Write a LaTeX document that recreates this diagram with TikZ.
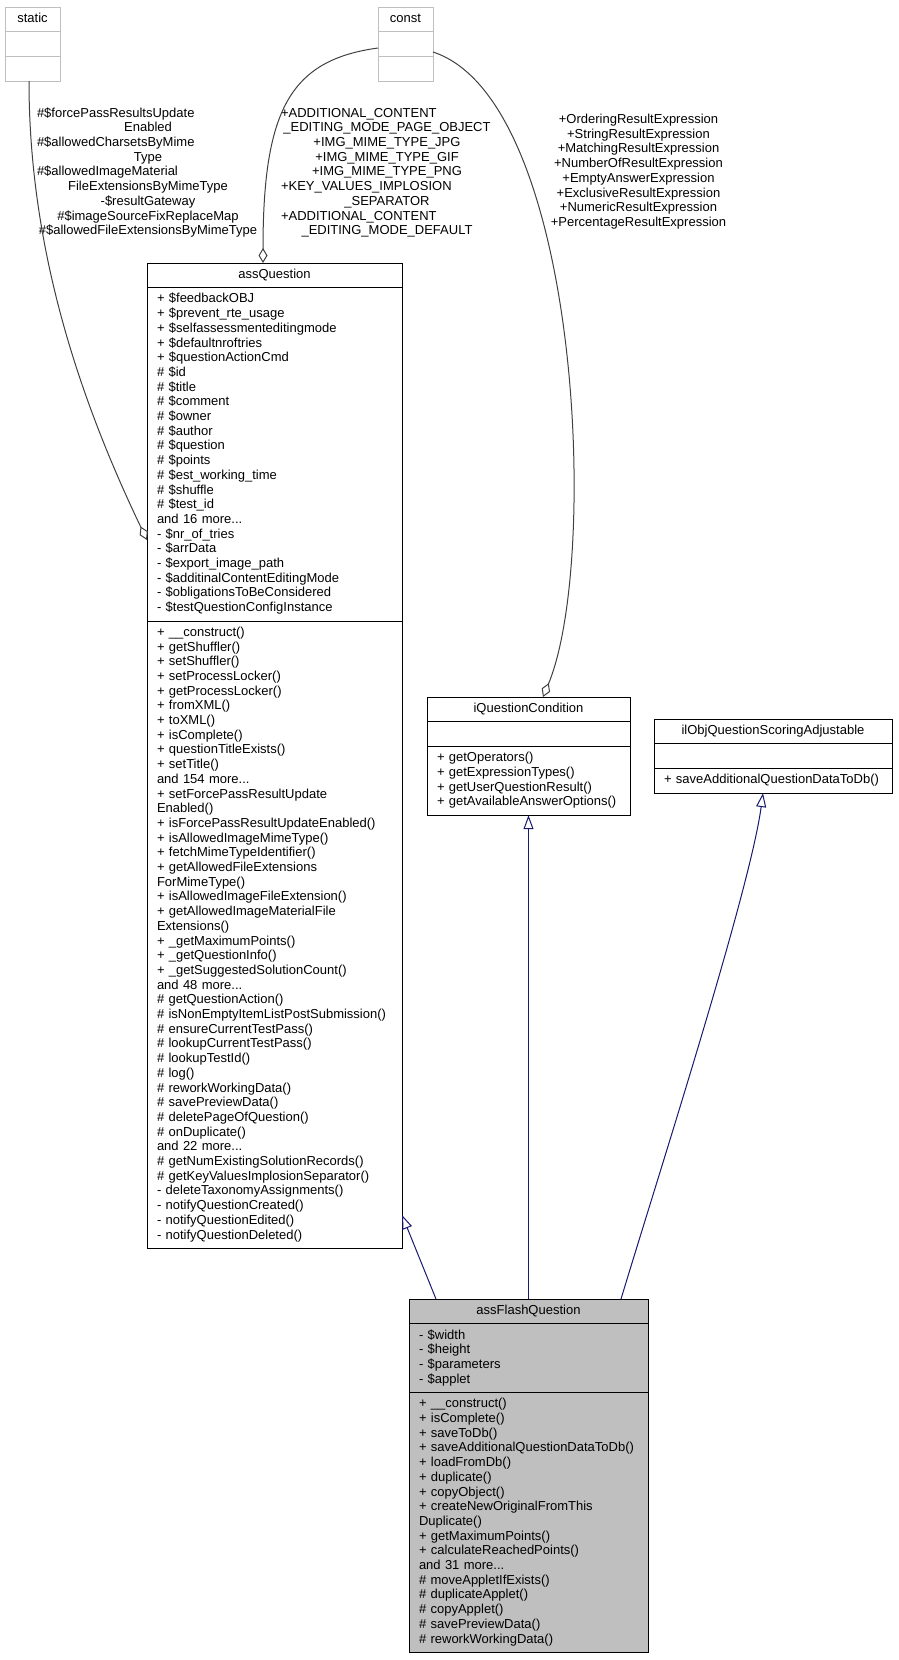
\documentclass[tikz,border=0pt]{standalone}
\usepackage{fontspec}
\setmainfont{Liberation Sans}
\usetikzlibrary{positioning, arrows.meta}

\definecolor{grey75}{HTML}{BFBFBF}
\definecolor{grey25}{HTML}{404040}
\definecolor{midnightblue}{HTML}{191970}

\begin{document}
\begin{tikzpicture}[x=1pt, y=-1pt, node distance=0pt,
  font=\fontsize{13}{14.7}\selectfont,
  part/.style={draw, line width=1pt, outer sep=0pt, inner xsep=10pt, inner ysep=5pt, align=left,
    execute at begin node=\strut, execute at end node=\strut},
  head/.style={part, align=center},
  unknown/.style={draw=grey75},
  elabel/.style={inner sep=0pt, align=center, execute at begin node=\strut, execute at end node=\strut},
  aggr/.style={grey25, line width=1pt, -{Diamond[open, length=15pt, width=9pt]}},
  inherit/.style={midnightblue, line width=1pt, -{Triangle[open, length=14pt, width=10pt]}}]
  \useasboundingbox (0,0) rectangle (899,1660);

  \node[head, unknown, text width=35pt] (st) at (32.5,19.35) {static};
  \node[part, unknown, text width=35pt, below=of st] (st-attr) {};
  \node[part, unknown, text width=35pt, below=of st-attr] (st-ops) {};

  \node[head, unknown, text width=35pt] (cn) at (405.5,19.35) {const};
  \node[part, unknown, text width=35pt, below=of cn] (cn-attr) {};
  \node[part, unknown, text width=35pt, below=of cn-attr] (cn-ops) {};

  \node[head, text width=235pt] (aq) at (274.5,275.35) {assQuestion};
  \node[part, text width=235pt, below=of aq] (aq-attr) {+ \$feedbackOBJ\\
+ \$prevent\_rte\_usage\\
+ \$selfassessmenteditingmode\\
+ \$defaultnroftries\\
+ \$questionActionCmd\\
\# \$id\\
\# \$title\\
\# \$comment\\
\# \$owner\\
\# \$author\\
\# \$question\\
\# \$points\\
\# \$est\_working\_time\\
\# \$shuffle\\
\# \$test\_id\\
and 16 more...\\
- \$nr\_of\_tries\\
- \$arrData\\
- \$export\_image\_path\\
- \$additinalContentEditingMode\\
- \$obligationsToBeConsidered\\
- \$testQuestionConfigInstance};
  \node[part, text width=235pt, below=of aq-attr] (aq-ops) {+ \_\_construct()\\
+ getShuffler()\\
+ setShuffler()\\
+ setProcessLocker()\\
+ getProcessLocker()\\
+ fromXML()\\
+ toXML()\\
+ isComplete()\\
+ questionTitleExists()\\
+ setTitle()\\
and 154 more...\\
+ setForcePassResultUpdate\\
Enabled()\\
+ isForcePassResultUpdateEnabled()\\
+ isAllowedImageMimeType()\\
+ fetchMimeTypeIdentifier()\\
+ getAllowedFileExtensions\\
ForMimeType()\\
+ isAllowedImageFileExtension()\\
+ getAllowedImageMaterialFile\\
Extensions()\\
+ \_getMaximumPoints()\\
+ \_getQuestionInfo()\\
+ \_getSuggestedSolutionCount()\\
and 48 more...\\
\# getQuestionAction()\\
\# isNonEmptyItemListPostSubmission()\\
\# ensureCurrentTestPass()\\
\# lookupCurrentTestPass()\\
\# lookupTestId()\\
\# log()\\
\# reworkWorkingData()\\
\# savePreviewData()\\
\# deletePageOfQuestion()\\
\# onDuplicate()\\
and 22 more...\\
\# getNumExistingSolutionRecords()\\
\# getKeyValuesImplosionSeparator()\\
- deleteTaxonomyAssignments()\\
- notifyQuestionCreated()\\
- notifyQuestionEdited()\\
- notifyQuestionDeleted()};

  \node[head, text width=183pt] (iqc) at (528.5,709.35) {iQuestionCondition};
  \node[part, text width=183pt, below=of iqc] (iqc-attr) {};
  \node[part, text width=183pt, below=of iqc-attr] (iqc-ops) {+ getOperators()\\
+ getExpressionTypes()\\
+ getUserQuestionResult()\\
+ getAvailableAnswerOptions()};

  \node[head, text width=218pt] (ilo) at (773,731.35) {ilObjQuestionScoringAdjustable};
  \node[part, text width=218pt, below=of ilo] (ilo-attr) {};
  \node[part, text width=218pt, below=of ilo-attr] (ilo-ops) {+ saveAdditionalQuestionDataToDb()};

  \node[head, fill=grey75, text width=219pt] (fq) at (528.5,1311.35) {assFlashQuestion};
  \node[part, fill=grey75, text width=219pt, below=of fq] (fq-attr) {- \$width\\
- \$height\\
- \$parameters\\
- \$applet};
  \node[part, fill=grey75, text width=219pt, below=of fq-attr] (fq-ops) {+ \_\_construct()\\
+ isComplete()\\
+ saveToDb()\\
+ saveAdditionalQuestionDataToDb()\\
+ loadFromDb()\\
+ duplicate()\\
+ copyObject()\\
+ createNewOriginalFromThis\\
Duplicate()\\
+ getMaximumPoints()\\
+ calculateReachedPoints()\\
and 31 more...\\
\# moveAppletIfExists()\\
\# duplicateApplet()\\
\# copyApplet()\\
\# savePreviewData()\\
\# reworkWorkingData()};

  \node[elabel, text width=222pt] (lbl-st) at (148,173) {\makebox[222pt][l]{\#\$forcePassResultsUpdate}\\
Enabled\\
\makebox[222pt][l]{\#\$allowedCharsetsByMime}\\
Type\\
\makebox[222pt][l]{\#\$allowedImageMaterial}\\
FileExtensionsByMimeType\\
-\$resultGateway\\
\#\$imageSourceFixReplaceMap\\
\#\$allowedFileExtensionsByMimeType};

  \node[elabel, text width=212pt] (lbl-cn) at (387,173) {\makebox[212pt][l]{+ADDITIONAL\_CONTENT}\\
\_EDITING\_MODE\_PAGE\_OBJECT\\
+IMG\_MIME\_TYPE\_JPG\\
+IMG\_MIME\_TYPE\_GIF\\
+IMG\_MIME\_TYPE\_PNG\\
\makebox[212pt][l]{+KEY\_VALUES\_IMPLOSION}\\
\_SEPARATOR\\
\makebox[212pt][l]{+ADDITIONAL\_CONTENT}\\
\_EDITING\_MODE\_DEFAULT};

  \node[elabel] (lbl-expr) at (638.5,172.5) {+OrderingResultExpression\\
+StringResultExpression\\
+MatchingResultExpression\\
+NumberOfResultExpression\\
+EmptyAnswerExpression\\
+ExclusiveResultExpression\\
+NumericResultExpression\\
+PercentageResultExpression};

  \draw[aggr] (st-ops.south -| 29,0) .. controls (29,250) and (80,400) .. (aq-attr.west |- 0,540);
  \draw[aggr] (cn-attr.west |- 0,48) .. controls (290,60) and (263,110) .. (aq.north -| 263,0);
  \draw[aggr] (cn-attr.east |- 0,52) .. controls (580,100) and (600,560) .. (iqc.north -| 543,0);

  \draw[inherit] (fq.north -| 436,0) -- (aq-ops.east |- 0,1215);
  \draw[inherit] (fq.north) -- (iqc-ops.south);
  \draw[inherit] (fq.north -| 621,0) .. controls (660,1170) and (750,890) .. (ilo-ops.south -| 763,0);

\end{tikzpicture}
\end{document}
